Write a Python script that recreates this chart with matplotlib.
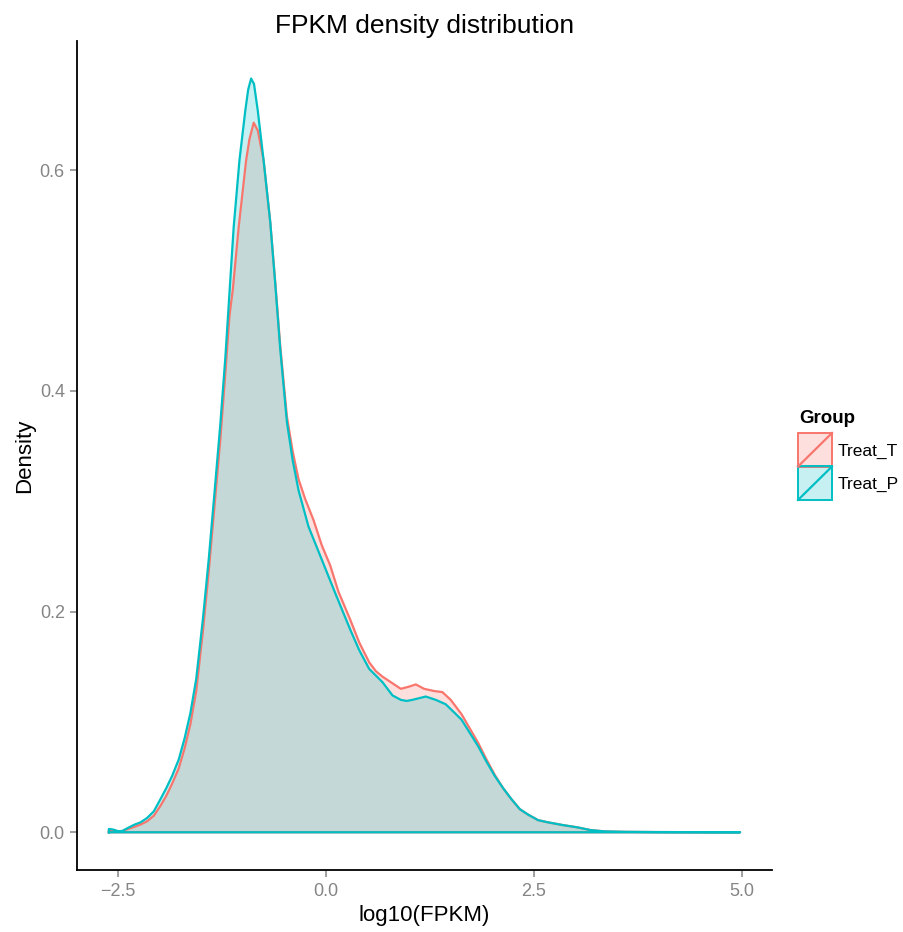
import matplotlib
matplotlib.use("Agg")
from matplotlib import pyplot as plt
from matplotlib.patches import Rectangle
from matplotlib.lines import Line2D

plt.rcParams["font.family"] = ["Liberation Sans", "DejaVu Sans"]

# density estimates of log10(FPKM) per group
treat_t_x = [-2.61, -2.55, -2.5, -2.45, -2.38, -2.3, -2.23, -2.15, -2.07, -1.99,
             -1.92, -1.85, -1.77, -1.7, -1.63, -1.56, -1.48, -1.41, -1.34, -1.27,
             -1.21, -1.16, -1.12, -1.05, -0.96, -0.92, -0.869, -0.82, -0.75, -0.67,
             -0.61, -0.55, -0.47, -0.40, -0.33, -0.25, -0.15, -0.05, 0.05, 0.15,
             0.29, 0.4, 0.52, 0.6, 0.68, 0.8, 0.9, 1.0, 1.08, 1.18,
             1.3, 1.4, 1.5, 1.63, 1.73, 1.83, 1.93, 2.03, 2.13, 2.23,
             2.33, 2.43, 2.55, 2.67, 2.85, 3.02, 3.18, 3.35, 3.6, 4.0,
             4.5, 4.98]
treat_t_y = [0.002, 0.0015, 0.001, 0.001, 0.003, 0.005, 0.007, 0.010, 0.015, 0.024,
             0.033, 0.044, 0.058, 0.076, 0.098, 0.128, 0.182, 0.236, 0.296, 0.356,
             0.416, 0.468, 0.492, 0.548, 0.609, 0.628, 0.643, 0.636, 0.609, 0.553,
             0.499, 0.441, 0.377, 0.345, 0.320, 0.302, 0.283, 0.260, 0.242, 0.218,
             0.193, 0.172, 0.154, 0.146, 0.141, 0.135, 0.130, 0.132, 0.134, 0.130,
             0.128, 0.127, 0.120, 0.107, 0.094, 0.081, 0.066, 0.052, 0.040, 0.030,
             0.021, 0.016, 0.011, 0.009, 0.0065, 0.0045, 0.002, 0.0008, 0.0004, 0.0002,
             0.0001, 0.0]

treat_p_x = [-2.61, -2.56, -2.5, -2.45, -2.38, -2.3, -2.23, -2.15, -2.07, -1.99,
             -1.92, -1.85, -1.77, -1.7, -1.63, -1.56, -1.48, -1.41, -1.34, -1.27,
             -1.21, -1.16, -1.11, -1.04, -0.97, -0.935, -0.9, -0.865, -0.82, -0.75,
             -0.67, -0.61, -0.55, -0.47, -0.40, -0.33, -0.21, -0.05, 0.11, 0.29,
             0.4, 0.52, 0.6, 0.68, 0.8, 0.9, 0.97, 1.04, 1.2, 1.32,
             1.44, 1.55, 1.63, 1.73, 1.83, 1.93, 2.03, 2.13, 2.23, 2.33,
             2.43, 2.55, 2.67, 2.85, 3.02, 3.18, 3.35, 3.6, 4.0, 4.5,
             4.98]
treat_p_y = [0.003, 0.0025, 0.001, 0.0012, 0.004, 0.007, 0.009, 0.013, 0.019, 0.030,
             0.040, 0.051, 0.066, 0.085, 0.108, 0.139, 0.193, 0.247, 0.308, 0.370,
             0.430, 0.489, 0.548, 0.609, 0.654, 0.673, 0.683, 0.678, 0.654, 0.609,
             0.553, 0.497, 0.438, 0.372, 0.337, 0.310, 0.277, 0.247, 0.217, 0.184,
             0.165, 0.148, 0.142, 0.136, 0.124, 0.120, 0.119, 0.120, 0.123, 0.120,
             0.116, 0.108, 0.102, 0.090, 0.078, 0.064, 0.051, 0.040, 0.030, 0.021,
             0.016, 0.011, 0.009, 0.0065, 0.0045, 0.002, 0.0008, 0.0004, 0.0002, 0.0001,
             0.0]

groups = ["Treat_T", "Treat_P"]
colors = ["#F8766D", "#00BFC4"]
x_ticks = [-2.5, 0.0, 2.5, 5.0]
y_ticks = [0.0, 0.2, 0.4, 0.6]


def main():
    fig = plt.figure(figsize=(9.04, 9.32), dpi=100)
    ax = fig.add_axes([0.0855, 0.0665, 0.7682, 0.8895])

    series = [(treat_t_x, treat_t_y), (treat_p_x, treat_p_y)]
    for (xs, ys), col in zip(series, colors):
        px = [xs[0]] + list(xs) + [xs[-1]]
        py = [0.0] + list(ys) + [0.0]
        ax.fill(px, py, facecolor=col, alpha=0.22, edgecolor="none")
        ax.plot(px + [px[0]], py + [0.0], color=col, lw=1.6,
                solid_joinstyle="round")

    ax.set_xlim(-2.99, 5.36)
    ax.set_ylim(-0.0342, 0.717)
    ax.set_xticks(x_ticks)
    ax.set_yticks(y_ticks)
    ax.set_xticklabels([f"{t:.1f}".replace("-", "\u2212") for t in x_ticks])
    ax.set_yticklabels([f"{t:.1f}" for t in y_ticks])
    for side in ["top", "right"]:
        ax.spines[side].set_visible(False)
    for side in ["left", "bottom"]:
        ax.spines[side].set_linewidth(1.3)
    ax.tick_params(colors="#858585", labelsize=13, length=5, width=1.1,
                   pad=4)

    ax.set_title("FPKM density distribution", fontsize=19, pad=6)
    ax.set_xlabel("log10(FPKM)", fontsize=16, labelpad=4)
    ax.set_ylabel("Density", fontsize=16, labelpad=3)

    # legend drawn in pixel coordinates on the figure
    W, H = 904, 932

    def fx(px):
        return px / W

    def fy(py):
        return 1 - py / H

    fig.text(fx(799), fy(419), "Group", fontsize=13.5, fontweight="bold",
             va="center", ha="left")
    for i, (name, col) in enumerate(zip(groups, colors)):
        top = 433 + 33.5 * i
        fig.add_artist(Rectangle((fx(798), fy(top + 33.5)), 34 / W, 33.5 / H,
                                 transform=fig.transFigure, facecolor=col,
                                 alpha=0.22, edgecolor="none"))
        fig.add_artist(Rectangle((fx(798), fy(top + 33.5)), 34 / W, 33.5 / H,
                                 transform=fig.transFigure, facecolor="none",
                                 edgecolor=col, lw=1.4))
        fig.add_artist(Line2D([fx(798), fx(832)], [fy(top + 33.5), fy(top)],
                              transform=fig.transFigure, color=col, lw=1.6))
        fig.text(fx(838), fy(top + 18), name, fontsize=12.5, va="center",
                 ha="left")

    fig.savefig("out.png", dpi=100)


if __name__ == "__main__":
    main()
